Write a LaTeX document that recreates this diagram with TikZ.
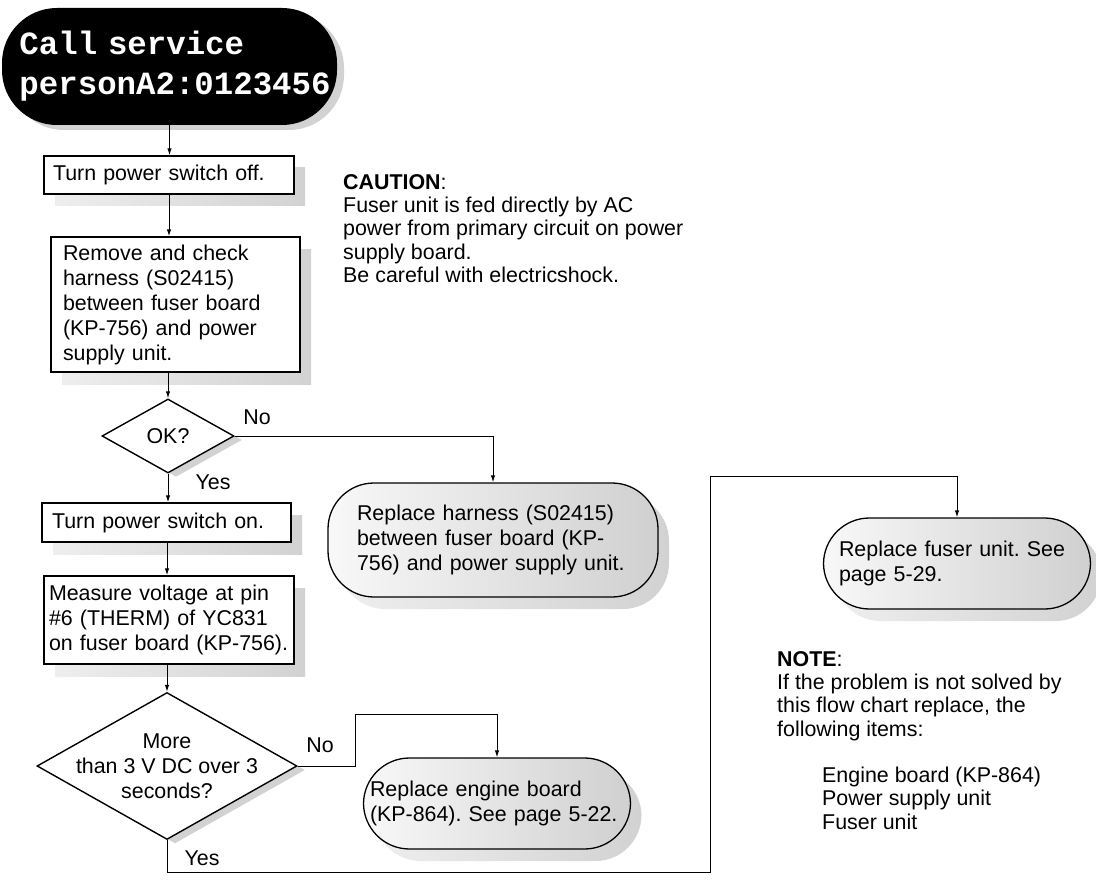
\documentclass[tikz,border=0pt]{standalone}
\usepackage{fontspec}
\setmainfont{Liberation Sans}
\setmonofont{Liberation Mono}
\usepackage{xcolor}
\usetikzlibrary{arrows.meta,positioning,calc,shapes.geometric,shadows}
\frenchspacing
\definecolor{sh}{HTML}{D2D2D2}
\definecolor{shl}{HTML}{EEEEEE}
\definecolor{gr}{HTML}{D0D0D0}
\definecolor{grl}{HTML}{F8F8F8}
\newcommand{\Body}{\fontsize{21.4}{25}\selectfont}
\newcommand{\Note}{\fontsize{21.4}{23.3}\selectfont}
\newcommand{\Call}{\fontsize{32.4}{40}\selectfont\ttfamily\bfseries}

\tikzset{
  boxshadow/.style={general shadow={shadow xshift=11pt, shadow yshift=-12pt, left color=shl, right color=sh}},
  stepbox/.style={draw, line width=1.4pt, fill=white, boxshadow, inner ysep=0pt, align=left, font=\Body},
  endbox/.style={draw, line width=1.3pt, rounded corners=46pt, left color=grl, right color=gr, boxshadow, inner ysep=0pt, align=left, font=\Body},
  decision/.style={diamond, aspect=1.78, draw, line width=1.4pt, fill=white, inner sep=0pt, align=center, font=\Body,
    general shadow={shadow xshift=8pt, shadow yshift=-4pt, fill=sh}},
  flow/.style={line width=1pt, -{Latex[length=7pt,width=4.5pt]}},
  answer/.style={font=\Body, inner sep=0pt},
  note/.style={font=\Note, align=left, inner sep=0pt, anchor=north west}
}

\begin{document}
\begin{tikzpicture}[x=1pt,y=-1pt]
  \useasboundingbox (0,0) rectangle (1096,888);

  % main column
  \node[fill=black, rounded corners=55pt, text=white, font=\Call, align=left, text width=300pt,
    minimum width=335pt, minimum height=117pt, inner sep=0pt,
    general shadow={shadow xshift=7pt, shadow yshift=-5pt, fill=sh}] (call) at (169.5,66.5)
    {Call service\\personA2:0123456};
  \node[stepbox, text width=232pt, inner xsep=9pt, minimum height=38pt] (off) at (169,175)
    {Turn power switch off.};
  \node[stepbox, text width=225pt, inner xsep=12pt, minimum height=135pt] (harn) at (175.5,304.5)
    {Remove and check\\harness (S02415)\\between fuser board\\(KP-756) and power\\supply unit.};
  \node[decision, minimum width=132pt, minimum height=74pt] (ok) at (168,436) {OK?};
  \node[stepbox, text width=229pt, inner xsep=10pt, minimum height=39pt] (on) at (166.5,522.5)
    {Turn power switch on.};
  \node[stepbox, text width=240pt, inner xsep=5pt, minimum height=88pt] (meas) at (169,620)
    {Measure voltage at pin\\\#6 (THERM) of YC831\\on fuser board (KP-756).};
  \node[decision, aspect=1.77, inner sep=-14pt, minimum width=260pt, minimum height=147pt] (volt) at (167,766)
    {More\\than 3 V DC over 3\\seconds?};

  % end points
  \node[endbox, text width=272pt, inner xsep=29pt, minimum height=114pt] (rharn) at (493,540)
    {Replace harness (S02415)\\between fuser board (KP-\\756) and power supply unit.};
  \node[endbox, text width=254pt, inner xsep=6.5pt, minimum height=91pt] (reng) at (497,803.5)
    {Replace engine board\\(KP-864). See page 5-22.};
  \node[endbox, text width=236pt, inner xsep=15.5pt, minimum height=91pt] (rfus) at (957,563.5)
    {Replace fuser unit. See\\page 5-29.};

  % notes
  \node[note] (caution) at (343,174)
    {\textbf{CAUTION}:\\Fuser unit is fed directly by AC\\power from primary circuit on power\\supply board.\\Be careful with electricshock.};
  \node[note] (note) at (777,651)
    {\textbf{NOTE}:\\If the problem is not solved by\\this flow chart replace, the\\following items:\\[23.3pt]
     \hspace*{45pt}Engine board (KP-864)\\\hspace*{45pt}Power supply unit\\\hspace*{45pt}Fuser unit};

  % answers
  \node[answer] (okno) at (257,417) {No};
  \node[answer] (okyes) at (213,482) {Yes};
  \node[answer] (voltno) at (320,745) {No};
  \node[answer] (voltyes) at (202,858) {Yes};

  % connectors
  \draw[flow] (call.south) -- (call.south |- off.north);
  \draw[flow] (off.south) -- (off.south |- harn.north);
  \draw[flow] (ok.north |- harn.south) -- (ok.north);
  \draw[flow] (ok.south) -- (ok.south |- on.north);
  \draw[flow] (volt.north |- on.south) -- (volt.north |- meas.north);
  \draw[flow] (volt.north |- meas.south) -- (volt.north);
  \draw[flow] (ok.east) -| (rharn.north);
  \coordinate (nobend) at (355,714);
  \draw[flow] (volt.east) -| (nobend) -| (reng.north);
  \coordinate (yesdown) at (710,872);
  \coordinate (yesup) at (710,476);
  \draw[flow] (volt.south) |- (yesdown) -- (yesup) -| (rfus.north);
\end{tikzpicture}
\end{document}
